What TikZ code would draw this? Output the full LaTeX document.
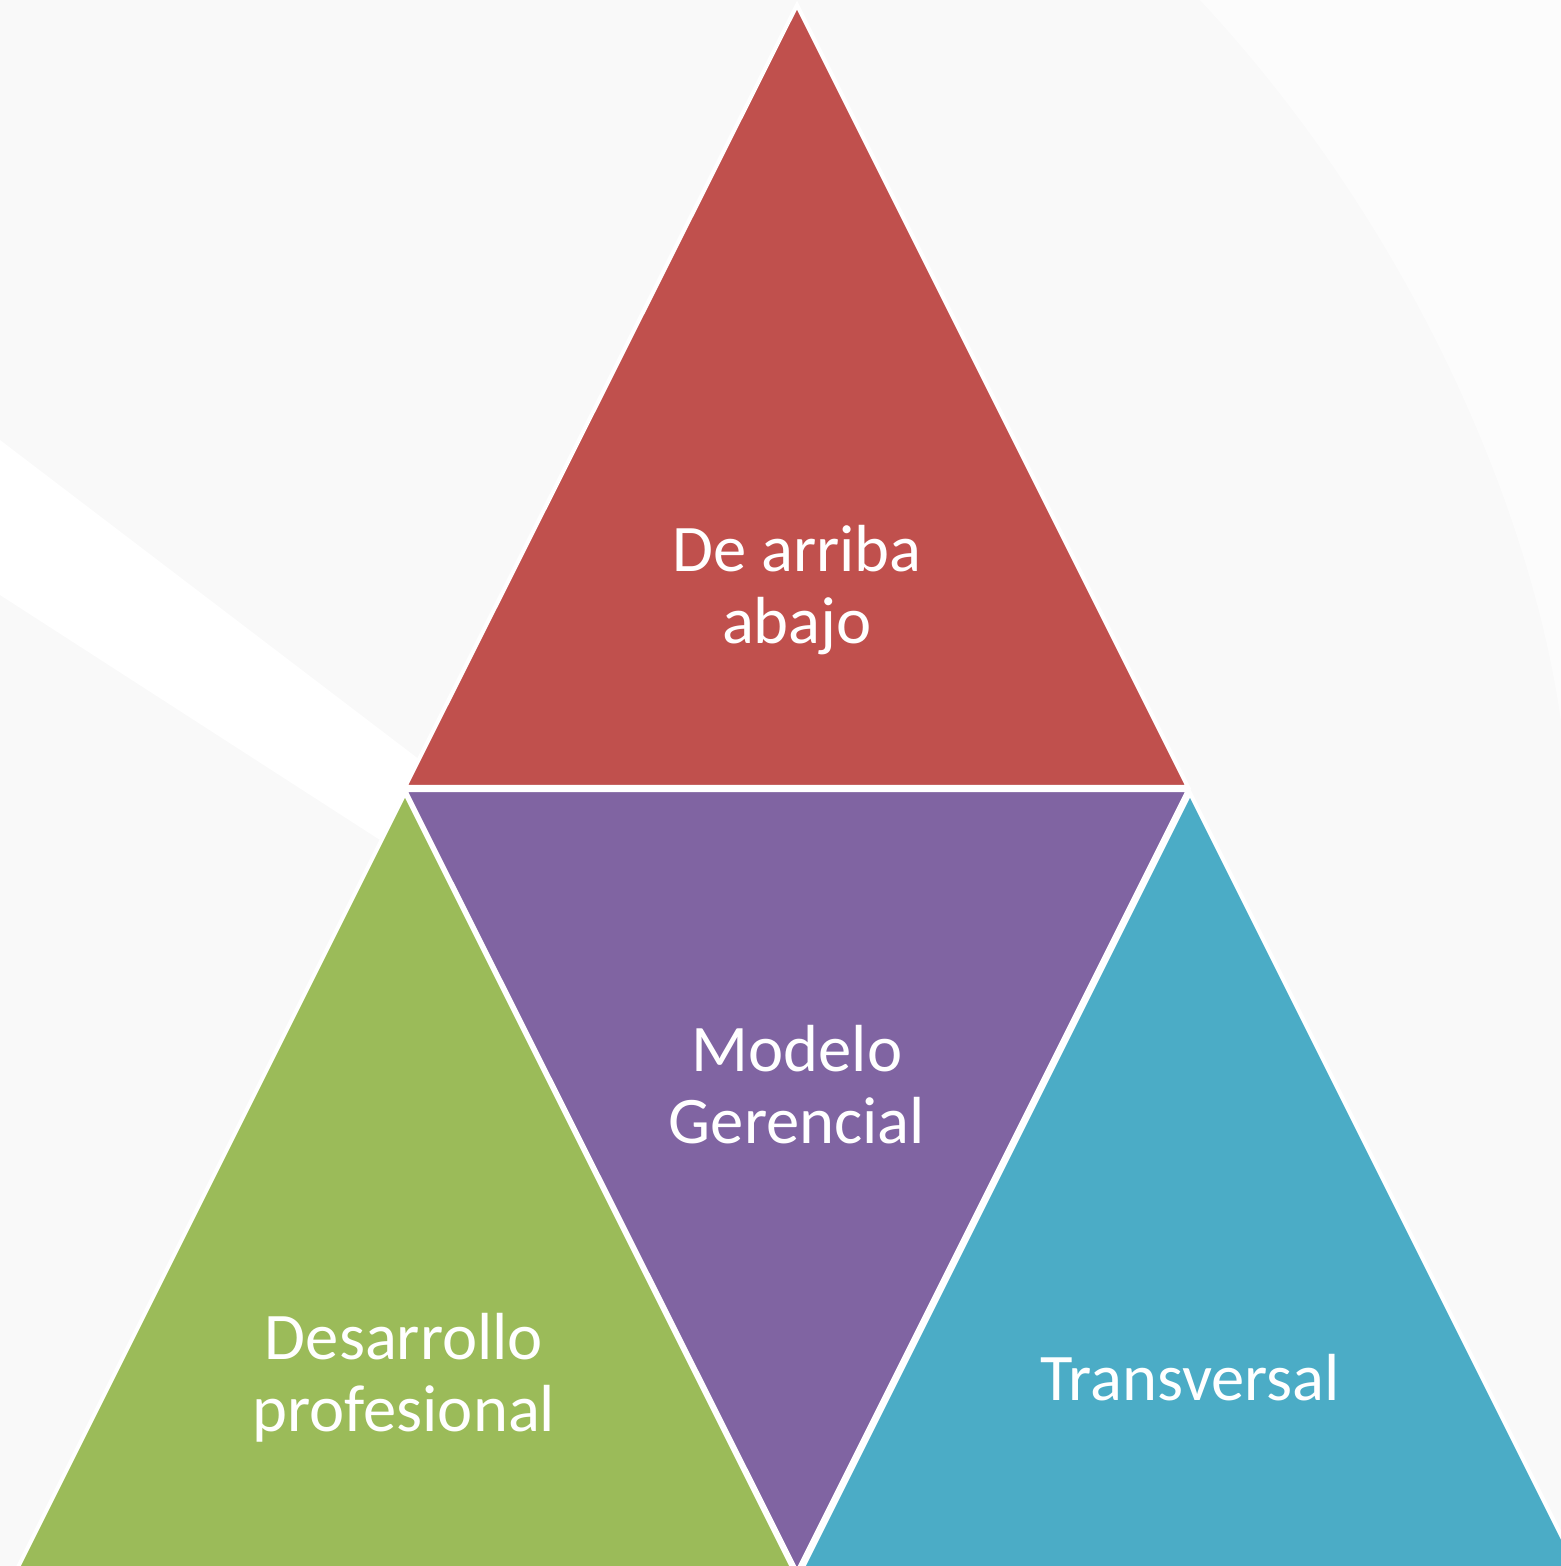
\documentclass[tikz,border=0pt]{standalone}
\usepackage{fontspec}
\setmainfont{Carlito}
\definecolor{bggray}{HTML}{F9F9F9}
\definecolor{topred}{HTML}{C0504D}
\definecolor{midpurple}{HTML}{8064A2}
\definecolor{leftgreen}{HTML}{9BBB59}
\definecolor{rightblue}{HTML}{4BACC6}
\tikzset{
  tri/.style={draw=white, line width=2.3pt, line join=miter},
  label/.style={text=white, align=center, font=\fontsize{37.9}{41}\selectfont}
}
\begin{document}
\begin{tikzpicture}[x=0.02cm, y=-0.02cm]

  % --- Background ---
  \useasboundingbox (0,0) rectangle (1561,1566);
  \clip (0,0) rectangle (1561,1566);
  \fill[bggray] (0,0) rectangle (1561,1566);
  \fill[white] (0,440) -- (420,760) -- (380,840) -- (0,595) -- cycle;
  \fill[white, opacity=0.6] (1200,0) .. controls (1480,300) and (1600,700) .. (1561,900) -- (1561,0) -- cycle;

  % --- Triangles ---
  \filldraw[tri, fill=topred] (797,5) -- (1188,787) -- (405,787) -- cycle;
  \filldraw[tri, fill=midpurple] (405,790) -- (1188,790) -- (797,1572) -- cycle;
  \filldraw[tri, fill=leftgreen] (405,793) -- (796,1575) -- (14,1575) -- cycle;
  \filldraw[tri, fill=rightblue] (1190,793) -- (1581,1575) -- (799,1575) -- cycle;

  % --- Labels ---
  \node[label] (arriba) at (797,590) {De arriba\\abajo};
  \node[label] (modelo) at (797,1085) {Modelo\\Gerencial};
  \node[label] (desarrollo) at (404,1378) {Desarrollo\\profesional};
  \node[label] (transversal) at (1190,1378) {Transversal};

\end{tikzpicture}
\end{document}
